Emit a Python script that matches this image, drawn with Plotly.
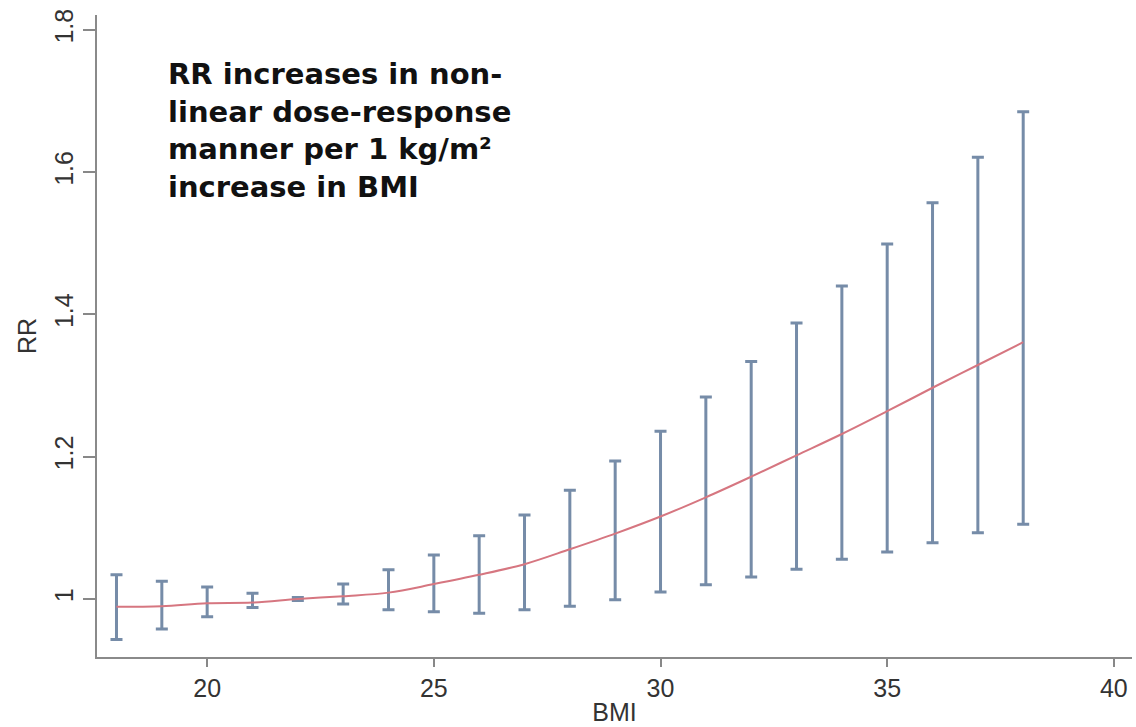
import plotly.graph_objects as go

bmi = [18, 19, 20, 21, 22, 23, 24, 25, 26, 27, 28, 29, 30, 31, 32, 33, 34, 35, 36, 37, 38]
rr = [0.989, 0.990, 0.994, 0.995, 1.000, 1.004, 1.009, 1.021, 1.034, 1.049, 1.070, 1.092,
      1.116, 1.143, 1.172, 1.202, 1.232, 1.264, 1.297, 1.329, 1.361]
lower = [0.943, 0.958, 0.975, 0.988, 0.998, 0.993, 0.985, 0.982, 0.980, 0.985, 0.990, 0.999,
         1.010, 1.020, 1.031, 1.042, 1.056, 1.066, 1.079, 1.093, 1.105]
upper = [1.034, 1.025, 1.017, 1.008, 1.002, 1.021, 1.041, 1.062, 1.089, 1.118, 1.153, 1.194,
         1.236, 1.284, 1.334, 1.388, 1.440, 1.499, 1.557, 1.621, 1.685]

x_ticks = [20, 25, 30, 35, 40]
y_ticks = [1.0, 1.2, 1.4, 1.6, 1.8]
y_ticklabels = ["1", "1.2", "1.4", "1.6", "1.8"]

err_plus = [u - c for u, c in zip(upper, rr)]
err_minus = [c - l for c, l in zip(rr, lower)]

bar_color = "rgb(118,140,168)"
line_color = "rgb(214,118,128)"

fig = go.Figure()
fig.add_trace(go.Scatter(
    x=bmi, y=rr, mode="markers",
    marker=dict(size=1, color="rgba(0,0,0,0)"),
    error_y=dict(type="data", symmetric=False, array=err_plus, arrayminus=err_minus,
                 color=bar_color, thickness=3, width=6),
    showlegend=False, hoverinfo="skip"))
fig.add_trace(go.Scatter(
    x=bmi, y=rr, mode="lines", line=dict(color=line_color, width=2, shape="spline"),
    showlegend=False))

fig.add_annotation(
    x=19.1, y=1.765, xref="x", yref="y", xanchor="left", yanchor="top",
    text="<b>RR increases in non-<br>linear dose-response<br>manner per 1 kg/m²<br>increase in BMI</b>",
    showarrow=False, align="left",
    font=dict(family="DejaVu Sans", size=29, color="#111111"))

axis_font = dict(family="Liberation Sans, Arial", size=25, color="#333333")
fig.update_xaxes(
    range=[17.57, 40.4], tickvals=x_ticks, ticks="outside", ticklen=8, tickwidth=1.5,
    tickcolor="#888888", showline=True, linecolor="#8a8a8a", linewidth=2,
    showgrid=False, zeroline=False, tickfont=axis_font,
    title=dict(text="BMI", font=axis_font, standoff=2))
fig.update_yaxes(
    range=[0.9185, 1.821], tickvals=y_ticks, ticktext=y_ticklabels, tickangle=-90,
    ticks="outside", ticklen=12, tickwidth=1.5, tickcolor="#888888",
    showline=True, linecolor="#8a8a8a", linewidth=2,
    showgrid=False, zeroline=False, tickfont=axis_font,
    title=dict(text="RR", font=axis_font, standoff=6))

fig.update_layout(
    width=1136, height=727,
    margin=dict(l=97, r=4, t=15, b=70),
    plot_bgcolor="white", paper_bgcolor="white")

fig.write_html("out.html")
